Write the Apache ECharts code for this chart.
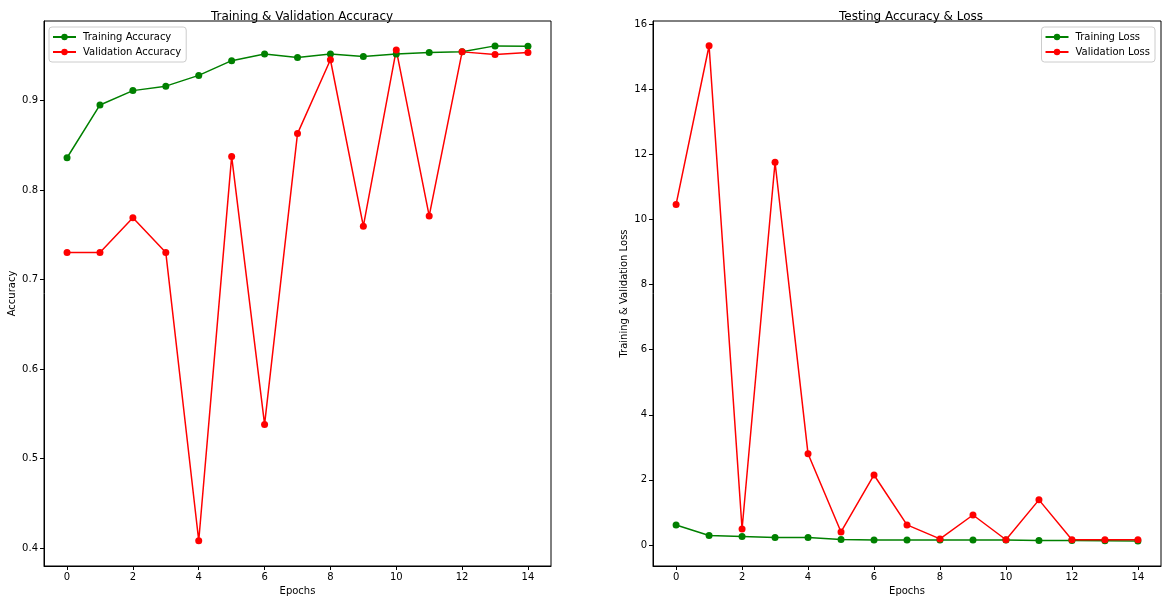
<!DOCTYPE html>
<html>
<head>
<meta charset="utf-8">
<script src="https://cdn.jsdelivr.net/npm/echarts@6/dist/echarts.min.js"></script>
<style>html,body{margin:0;padding:0;background:#fff}#c{width:1167px;height:604px}</style>
</head>
<body>
<div id="c"></div>
<script>
const epochs = [0,1,2,3,4,5,6,7,8,9,10,11,12,13,14];
const trainAcc = [0.836,0.895,0.911,0.916,0.928,0.9445,0.952,0.948,0.952,0.949,0.952,0.9535,0.9545,0.961,0.9605];
const valAcc = [0.730,0.730,0.769,0.730,0.408,0.8375,0.538,0.863,0.9455,0.7595,0.9565,0.771,0.9543,0.9513,0.9536];
const trainLoss = [0.615,0.29,0.26,0.23,0.225,0.165,0.155,0.15,0.15,0.155,0.15,0.135,0.14,0.13,0.125];
const valLoss = [10.465,15.34,0.49,11.76,2.80,0.40,2.15,0.615,0.185,0.92,0.16,1.385,0.16,0.16,0.16];
const xTicks = [0,2,4,6,8,10,12,14];
const accTicks = [0.4,0.5,0.6,0.7,0.8,0.9];
const lossTicks = [0,2,4,6,8,10,12,14,16];
const leftTitle = 'Training & Validation Accuracy';
const rightTitle = 'Testing Accuracy & Loss';

const FONT = 'DejaVu Sans';
const pair = (xs, ys) => xs.map((x, i) => [x, ys[i]]);

function xAxis(idx) {
  return {
    type: 'value', gridIndex: idx, min: -0.7, max: 14.7,
    name: 'Epochs', nameLocation: 'middle', nameGap: 20,
    nameTextStyle: {fontFamily: FONT, fontSize: 10, color: '#000'},
    axisLine: {show: true, onZero: false, lineStyle: {color: '#000', width: 1}},
    axisTick: {show: true, length: 4, customValues: xTicks, lineStyle: {color: '#000'}},
    axisLabel: {fontFamily: FONT, fontSize: 10, color: '#000', margin: 6,
      customValues: xTicks, formatter: v => String(v)},
    splitLine: {show: false}
  };
}
function yAxis(idx, min, max, ticks, name, gap, dec) {
  return {
    type: 'value', gridIndex: idx, min: min, max: max,
    name: name, nameLocation: 'middle', nameGap: gap,
    nameTextStyle: {fontFamily: FONT, fontSize: 10, color: '#000'},
    axisLine: {show: true, onZero: false, lineStyle: {color: '#000', width: 1}},
    axisTick: {show: true, length: 4, customValues: ticks, lineStyle: {color: '#000'}},
    axisLabel: {fontFamily: FONT, fontSize: 10, color: '#000', margin: 6,
      customValues: ticks, formatter: v => dec ? v.toFixed(1) : String(Math.round(v))},
    splitLine: {show: false}
  };
}
function lineSeries(name, data, color, xi, yi) {
  return {
    name: name, type: 'line', xAxisIndex: xi, yAxisIndex: yi, data: data,
    symbol: 'circle', symbolSize: 7, showSymbol: true,
    lineStyle: {color: color, width: 1.5},
    itemStyle: {color: color},
    emphasis: {disabled: true}, animation: false
  };
}
const legendCommon = {
  orient: 'vertical', itemWidth: 23, itemHeight: 8, itemGap: 5,
  padding: [5, 5, 5, 3],
  backgroundColor: '#fff', borderColor: '#ccc', borderWidth: 1, borderRadius: 3,
  textStyle: {fontFamily: FONT, fontSize: 10, color: '#000', padding: [0, 0, 0, 2]}
};

const chart = echarts.init(document.getElementById('c'), null, {renderer: 'canvas'});
chart.setOption({
  animation: false,
  backgroundColor: '#fff',
  title: [
    {text: leftTitle, left: 297, top: 6, textAlign: 'center',
     textStyle: {fontFamily: FONT, fontSize: 12, fontWeight: 'normal', color: '#000'}},
    {text: rightTitle, left: 906, top: 6, textAlign: 'center',
     textStyle: {fontFamily: FONT, fontSize: 12, fontWeight: 'normal', color: '#000'}}
  ],
  grid: [
    {left: 44, right: 616, top: 21, bottom: 38, show: true, borderColor: '#000', borderWidth: 1, containLabel: false},
    {left: 653, right: 6, top: 21, bottom: 38, show: true, borderColor: '#000', borderWidth: 1, containLabel: false}
  ],
  xAxis: [xAxis(0), xAxis(1)],
  yAxis: [
    yAxis(0, 0.3798, 0.9888, accTicks, 'Accuracy', 27, true),
    yAxis(1, -0.647, 16.1, lossTicks, 'Training & Validation Loss', 24, false)
  ],
  legend: [
    Object.assign({}, legendCommon, {left: 49, top: 27, data: ['Training Accuracy', 'Validation Accuracy']}),
    Object.assign({}, legendCommon, {right: 12, top: 27, data: ['Training Loss', 'Validation Loss']})
  ],
  series: [
    lineSeries('Training Accuracy', pair(epochs, trainAcc), '#008000', 0, 0),
    lineSeries('Validation Accuracy', pair(epochs, valAcc), '#ff0000', 0, 0),
    lineSeries('Training Loss', pair(epochs, trainLoss), '#008000', 1, 1),
    lineSeries('Validation Loss', pair(epochs, valLoss), '#ff0000', 1, 1)
  ]
});
</script>
</body>
</html>
